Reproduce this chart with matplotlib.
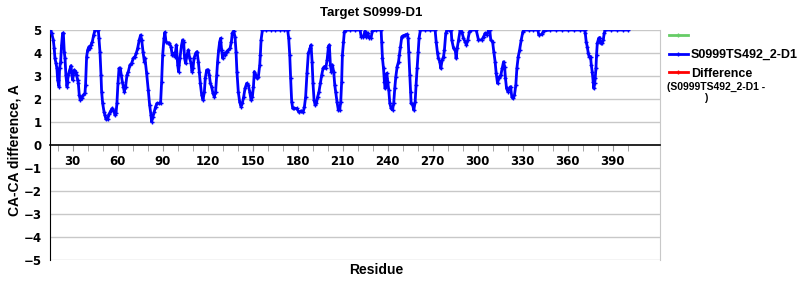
import matplotlib
matplotlib.use("Agg")
import matplotlib.pyplot as plt

# CA-CA difference for model S0999TS492_2-D1
residues = [
    14.9, 16.0, 17.1, 17.7, 18.2, 18.9, 19.5, 20.0, 20.9, 21.3, 22.0, 22.6, 23.3, 23.8, 24.4, 24.9,
    25.5, 26.2, 26.6, 27.1, 28.0, 28.9, 29.3, 30.0, 30.4, 31.1, 32.0, 32.6, 33.3, 33.8, 34.4, 35.1,
    36.0, 37.1, 38.2, 38.6, 39.3, 40.0, 40.9, 41.5, 42.2, 43.1, 44.0, 44.9, 46.0, 47.1, 47.5, 48.2,
    48.9, 49.3, 50.0, 50.9, 51.5, 52.2, 53.3, 54.2, 55.3, 56.4, 57.5, 58.2, 58.9, 59.5, 60.2, 60.9,
    61.8, 62.4, 63.1, 63.8, 64.4, 65.3, 66.2, 67.1, 68.2, 69.3, 70.4, 71.5, 72.4, 73.3, 74.4, 75.3,
    76.0, 76.9, 77.8, 78.2, 79.3, 80.4, 81.3, 82.2, 82.6, 83.5, 84.4, 85.3, 86.2, 87.5, 88.6, 89.3,
    90.0, 90.9, 91.5, 92.2, 93.3, 94.4, 95.5, 96.4, 97.3, 98.2, 99.1, 100.0, 100.6, 101.5, 102.6, 103.3,
    104.0, 104.6, 105.3, 106.2, 107.1, 108.0, 108.9, 109.5, 110.2, 110.9, 112.0, 112.9, 113.8, 114.4,
    115.1, 116.0, 116.9, 117.8, 118.4, 119.3, 120.4, 121.1, 121.8, 122.6, 123.5, 124.4, 125.3, 126.0,
    126.6, 127.3, 128.0, 128.6, 129.3, 130.0, 130.9, 131.8, 132.6, 133.8, 134.9, 135.8, 136.4, 137.3,
    138.2, 138.9, 139.5, 140.4, 141.3, 142.2, 143.1, 144.0, 144.9, 146.0, 147.1, 148.0, 148.9, 149.8,
    150.5, 151.1, 152.0, 152.9, 153.8, 154.7, 155.1, 155.6, 156.5, 159.0, 162.0, 165.0, 168.0, 171.0,
    173.3, 174.0, 174.7, 175.3, 176.0, 176.7, 177.8, 179.3, 180.9, 182.2, 183.6, 184.5, 185.3, 186.2,
    187.1, 188.2, 188.9, 189.6, 190.2, 190.9, 191.6, 192.5, 193.3, 194.2, 195.1, 196.0, 196.9, 197.8,
    198.7, 199.6, 200.5, 201.1, 201.8, 202.5, 203.1, 204.0, 204.7, 205.3, 206.2, 207.1, 208.0, 208.7,
    209.3, 209.8, 210.5, 211.1, 212.0, 215.0, 218.0, 221.6, 222.3, 223.8, 224.9, 225.8, 226.7, 227.6,
    228.9, 229.8, 232.5, 235.6, 236.0, 236.5, 237.2, 237.8, 238.3, 238.7, 239.4, 240.0, 240.7, 241.4,
    242.3, 243.2, 244.0, 244.7, 245.4, 246.3, 247.2, 247.8, 248.5, 249.4, 250.3, 251.6, 253.0, 253.6,
    254.0, 254.7, 255.2, 255.6, 256.5, 257.4, 258.3, 258.9, 259.6, 260.3, 260.9, 261.8, 265.0, 268.0,
    271.6, 272.3, 273.2, 273.8, 274.7, 275.4, 276.3, 277.2, 277.8, 278.7, 279.6, 281.0, 282.3, 282.7,
    283.9, 285.0, 285.6, 286.3, 287.2, 288.3, 289.4, 290.5, 291.6, 292.5, 293.4, 294.5, 295.6, 299.0,
    300.5, 302.7, 303.9, 305.0, 306.1, 307.2, 308.0, 308.7, 309.9, 310.7, 311.6, 312.3, 313.2, 313.9,
    314.5, 315.4, 316.3, 317.2, 317.9, 318.5, 319.2, 320.1, 321.0, 321.9, 322.7, 323.6, 324.5, 325.4,
    326.1, 327.0, 327.9, 329.0, 330.1, 331.0, 334.0, 337.0, 340.1, 340.7, 342.7, 343.9, 348.3, 352.0,
    356.0, 360.0, 364.0, 368.0, 371.2, 371.7, 372.3, 373.0, 373.7, 374.3, 375.2, 375.7, 376.3, 377.0,
    377.4, 377.9, 378.3, 378.8, 379.2, 379.7, 380.6, 381.2, 381.9, 382.8, 383.7, 384.3, 385.0, 389.0,
    393.0, 397.0, 400.1,
]
ca_diff = [
    5.00, 4.86, 4.57, 4.20, 3.77, 3.55, 3.33, 2.83, 2.54, 3.33, 3.62, 4.35, 4.86, 4.86, 4.06, 3.77,
    3.04, 2.54, 2.75, 3.04, 3.26, 3.45, 3.12, 2.83, 3.04, 3.26, 3.19, 3.04, 2.83, 2.68, 2.17, 1.96,
    2.06, 2.17, 2.25, 2.61, 3.84, 4.13, 4.28, 4.20, 4.35, 4.49, 4.78, 5.00, 5.00, 5.00, 4.64, 4.06,
    3.04, 2.32, 1.81, 1.45, 1.30, 1.12, 1.12, 1.33, 1.48, 1.59, 1.48, 1.30, 1.38, 1.81, 2.68, 3.33,
    3.33, 3.04, 2.75, 2.54, 2.32, 2.54, 3.04, 3.19, 3.48, 3.55, 3.77, 3.84, 3.99, 4.20, 4.57, 4.78,
    4.57, 4.06, 3.62, 3.77, 3.12, 2.39, 1.74, 1.30, 1.01, 1.23, 1.45, 1.67, 1.81, 1.81, 1.81, 2.75,
    3.91, 4.64, 4.90, 4.49, 4.43, 4.43, 4.28, 3.91, 3.99, 3.84, 4.35, 3.48, 3.19, 3.77, 4.35, 4.57,
    4.49, 3.77, 3.55, 3.91, 4.13, 3.77, 3.55, 3.19, 3.33, 3.77, 3.99, 4.06, 3.62, 3.19,
    2.68, 2.17, 1.96, 2.32, 2.90, 3.26, 3.26, 3.04, 2.68, 2.54, 2.25, 2.10, 2.32, 3.04,
    3.62, 4.13, 4.49, 4.64, 4.13, 3.77, 3.99, 3.91, 4.06, 4.13, 4.20, 4.49, 4.86, 4.96,
    4.71, 4.06, 3.19, 2.32, 1.88, 1.67, 1.81, 2.10, 2.46, 2.68, 2.61, 2.32, 1.96, 2.10,
    2.54, 3.19, 3.04, 2.90, 2.97, 3.48, 3.91, 4.57, 5.00, 5.00, 5.00, 5.00, 5.00, 5.00,
    5.00, 4.64, 3.91, 2.90, 1.88, 1.59, 1.59, 1.59, 1.42, 1.48, 1.42, 1.67, 2.10, 3.12,
    3.99, 4.20, 4.35, 3.62, 2.68, 1.96, 1.74, 1.81, 2.10, 2.32, 2.68, 3.04, 3.33, 3.41,
    3.33, 3.70, 4.28, 4.35, 3.48, 3.19, 3.48, 3.19, 2.61, 2.32, 1.88, 1.52, 1.52, 1.88,
    2.75, 3.91, 4.49, 4.93, 5.00, 5.00, 5.00, 5.00, 4.71, 4.71, 4.96, 4.71, 4.86, 4.67,
    4.67, 4.96, 5.00, 5.00, 4.49, 3.77, 3.33, 2.75, 2.46, 2.90, 3.12, 2.75, 2.39, 1.81,
    1.59, 1.52, 1.81, 2.46, 2.97, 3.41, 3.62, 3.91, 4.28, 4.71, 4.75, 4.78, 4.81, 4.64,
    4.06, 3.04, 2.32, 1.81, 1.77, 1.52, 1.88, 2.61, 3.33, 4.06, 4.64, 5.00, 5.00, 5.00,
    5.00, 4.49, 3.99, 3.77, 3.62, 3.33, 3.70, 3.84, 4.13, 4.86, 5.00, 5.00, 5.00, 4.57,
    4.20, 4.13, 3.77, 4.20, 4.57, 5.00, 4.93, 4.64, 4.49, 4.35, 4.57, 4.93, 5.00, 5.00,
    4.57, 4.57, 4.71, 4.86, 4.78, 5.00, 5.00, 4.57, 4.49, 4.06, 3.62, 3.12, 2.68, 2.90,
    2.97, 3.04, 3.33, 3.62, 3.41, 2.90, 2.46, 2.32, 2.46, 2.54, 2.10, 2.03, 2.17, 2.61,
    3.33, 3.84, 4.13, 4.57, 4.93, 5.00, 5.00, 5.00, 5.00, 4.78, 4.81, 4.96, 5.00, 5.00,
    5.00, 5.00, 5.00, 5.00, 5.00, 4.86, 4.49, 4.28, 3.99, 3.84, 3.84, 3.48, 3.19, 2.75,
    2.46, 2.68, 2.90, 3.33, 3.91, 4.42, 4.64, 4.67, 4.42, 4.42, 4.57, 4.86, 5.00, 5.00,
    5.00, 5.00, 5.00,
]

title = "Target S0999-D1"
model_name = "S0999TS492_2-D1"
x_labels = [30, 60, 90, 120, 150, 180, 210, 240, 270, 300, 330, 360, 390]
x_minor = list(range(20, 401, 10))
y_ticks = [-5, -4, -3, -2, -1, 0, 1, 2, 3, 4, 5]

plt.rcParams['font.family'] = ['DejaVu Sans']
plt.rcParams['font.weight'] = 'bold'
LAB = 'Liberation Sans'

fig = plt.figure(figsize=(8, 3), dpi=100)
ax = fig.add_axes([50 / 800, 40 / 300, 610 / 800, 230 / 300])

for y in y_ticks:
    if y != 0:
        ax.axhline(y, color='#c8c8c8', lw=1, zorder=0)

ax.plot([], [], color='#66cc66', lw=2, marker='+', ms=3, label=' ')
ax.plot(residues, ca_diff, color='#0000ff', lw=2, marker='+', ms=3.5, mew=1,
        label=model_name, zorder=3)
ax.plot([], [], color='#ff0000', lw=2, marker='+', ms=3, label='Difference')

ax.set_xlim(14.9, 421.5)
ax.set_ylim(-5, 5)

ax.spines['top'].set_visible(False)
ax.spines['right'].set_color('#c8c8c8')
ax.spines['left'].set_color('black')
ax.spines['bottom'].set_position(('data', 0))
ax.spines['bottom'].set_color('black')
ax.spines['bottom'].set_linewidth(1.2)

ax.set_xticks(x_labels)
ax.set_xticklabels([str(v) for v in x_labels])
ax.set_xticks(x_minor, minor=True)
ax.tick_params(axis='x', which='both', direction='out', length=4, color='#999999',
               labelsize=8.5, pad=3)
ax.set_yticks(y_ticks)
ax.set_yticklabels(['\u2212%d' % -v if v < 0 else str(v) for v in y_ticks])
ax.tick_params(axis='y', length=0, labelsize=8.5, pad=6)

fig.text(15 / 800, 1 - 150 / 300, 'CA-CA difference, A', rotation=90, ha='center',
         va='center', fontsize=10, fontweight='bold', family=LAB)
fig.text(376 / 800, 1 - 270 / 300, 'Residue', ha='center', va='center',
         fontsize=10, fontweight='bold', family=LAB)
fig.text(371 / 800, 1 - 13 / 300, title, ha='center', va='center',
         fontsize=9.5, fontweight='bold', family=LAB)

ax.legend(loc='upper left', bbox_to_anchor=(669 / 800, 1 - 30 / 300),
          bbox_transform=fig.transFigure, frameon=False,
          prop={'family': LAB, 'weight': 'bold', 'size': 9},
          handlelength=1.5, handletextpad=0.25, labelspacing=0.55,
          borderaxespad=0, borderpad=0, numpoints=1)
fig.text(667 / 800, 1 - 87 / 300, '(S0999TS492_2-D1 -', ha='left', va='center',
         fontsize=7.5, fontweight='bold', family=LAB)
fig.text(704 / 800, 1 - 98 / 300, ')', ha='left', va='center',
         fontsize=7.5, fontweight='bold', family=LAB)

fig.savefig('out.png', dpi=100)
